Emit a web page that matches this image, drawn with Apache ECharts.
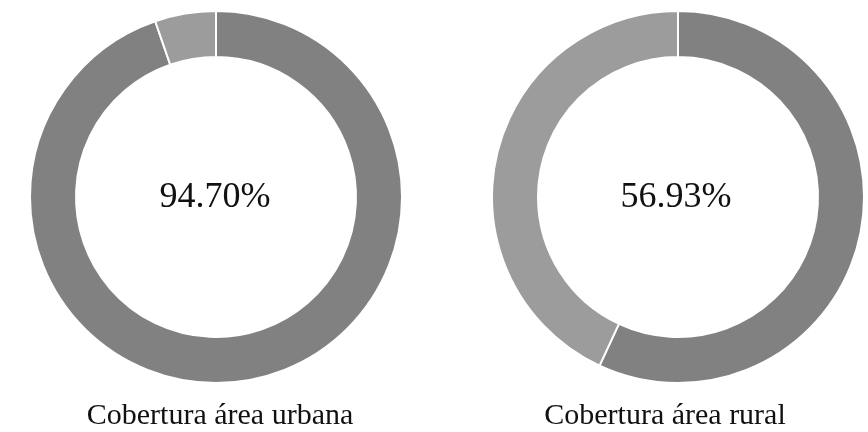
<!DOCTYPE html>
<html>
<head>
<meta charset="utf-8">
<script src="https://cdn.jsdelivr.net/npm/echarts@6/dist/echarts.min.js"></script>
<style>
  html, body { margin: 0; padding: 0; background: #ffffff; }
  #chart { width: 868px; height: 432px; }
</style>
</head>
<body>
<div id="chart"></div>
<script>
// Coverage shares (percent): covered vs. not covered
const chartTitles = ['Cobertura área urbana', 'Cobertura área rural'];
const coveredValues = [94.70, 56.93];
const uncoveredValues = [5.30, 43.07];
const sliceNames = ['Cobertura', 'Sem cobertura'];

const centers = [[216, 197], [678, 197]];
// horizontal centres of the value text and the caption under each ring
const valueTextX = [215, 676];
const captionX = [220, 665];
const serif = '"Liberation Serif", "DejaVu Serif", serif';
// title boxes carry a 5px padding, shift the anchor back by it
const pad = 5;

const series = chartTitles.map((t, i) => ({
  type: 'pie',
  center: centers[i],
  radius: [140, 186],
  startAngle: 90,
  clockwise: true,
  silent: true,
  label: { show: false },
  labelLine: { show: false },
  itemStyle: { borderColor: '#ffffff', borderWidth: 2 },
  data: [
    { name: sliceNames[0], value: coveredValues[i], itemStyle: { color: '#818181' } },
    { name: sliceNames[1], value: uncoveredValues[i], itemStyle: { color: '#9c9c9c' } }
  ]
}));

const titles = [];
chartTitles.forEach((t, i) => {
  titles.push({
    text: coveredValues[i].toFixed(2) + '%',
    left: valueTextX[i] - pad,
    top: centers[i][1] - 22,
    textAlign: 'center',
    textStyle: { fontFamily: serif, fontSize: 36, fontWeight: 'normal', color: '#111111' }
  });
  titles.push({
    text: t,
    left: captionX[i] - pad,
    top: 396,
    textAlign: 'center',
    textStyle: { fontFamily: serif, fontSize: 30, fontWeight: 'normal', color: '#111111' }
  });
});

const chart = echarts.init(document.getElementById('chart'));
chart.setOption({
  animation: false,
  backgroundColor: '#ffffff',
  title: titles,
  series: series
});
</script>
</body>
</html>
